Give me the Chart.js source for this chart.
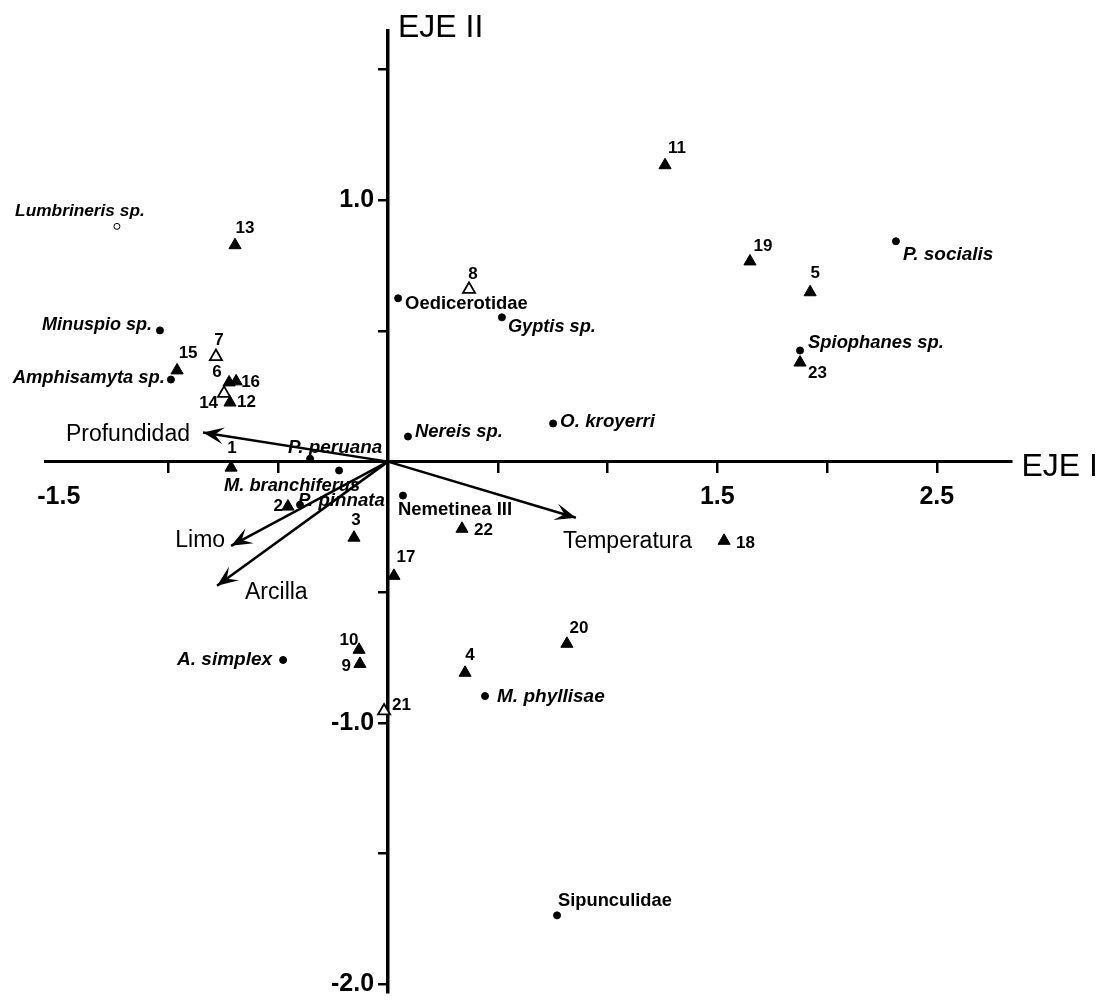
<!DOCTYPE html>
<html>
<head>
<meta charset="utf-8">
<title>EJE I / EJE II</title>
<script src="https://cdn.jsdelivr.net/npm/chart.js@4.4.1/dist/chart.umd.min.js"></script>
<style>
  html, body { margin: 0; padding: 0; background: #ffffff; }
  #wrap { width: 1109px; height: 1001px; position: relative; }
  canvas { display: block; }
</style>
</head>
<body>
<div id="wrap"><canvas id="c" width="1109" height="1001"></canvas></div>
<script>
// Sampling stations (triangles)
const siteIds = ['1','2','3','4','5','6','7','8','9','10','11','12','13','14','15','16','17','18','19','20','21','22','23'];
const siteX = [-0.715, -0.456, -0.155, 0.351, 1.923, -0.724, -0.784, 0.369, -0.128, -0.132, 1.262, -0.720, -0.697, -0.747, -0.961, -0.692, 0.027, 1.531, 1.649, 0.815, -0.018, 0.337, 1.877];
const siteY = [-0.023, -0.172, -0.291, -0.808, 0.648, 0.303, 0.402, 0.659, -0.774, -0.720, 1.134, 0.226, 0.828, 0.261, 0.349, 0.307, -0.437, -0.303, 0.766, -0.697, -0.954, -0.257, 0.379];

// Taxa (dots)
const speciesNames = ['Lumbrineris sp.', 'Minuspio sp.', 'Amphisamyta sp.', 'A. simplex', 'P. peruana', 'M. branchiferus', 'P. pinnata', 'Oedicerotidae', 'Gyptis sp.', 'Nereis sp.', 'O. kroyerri', 'Nemetinea III', 'M. phyllisae', 'Sipunculidae', 'P. socialis', 'Spiophanes sp.'];
const speciesX = [-1.235, -1.039, -0.989, -0.478, -0.355, -0.223, -0.401, 0.046, 0.519, 0.091, 0.752, 0.068, 0.442, 0.770, 2.314, 1.877];
const speciesY = [0.900, 0.502, 0.314, -0.759, 0.011, -0.034, -0.165, 0.625, 0.552, 0.096, 0.146, -0.130, -0.897, -1.736, 0.843, 0.425];

// Environmental variables (arrows from the origin)
const envNames = ['Profundidad', 'Limo', 'Arcilla', 'Temperatura'];
const envX = [-0.843, -0.715, -0.779, 0.856];
const envY = [0.111, -0.322, -0.475, -0.215];

// Axis tick labels and titles
const xTickLabels = [-1.5, 1.5, 2.5];
const yTickLabels = [1.0, -1.0, -2.0];
const axisTitles = ['EJE I', 'EJE II'];

// ---- presentation (label placement in px relative to each mark, styles) ----
const hollowSites = ['7', '8', '14', '21'];
const hollowSpecies = ['Lumbrineris sp.'];
const uprightSpecies = ['Oedicerotidae', 'Nemetinea III', 'Sipunculidae'];

// [dx, dy, align]
const siteLabelPos = [
  [1, -19, 'center'], [-5, 0, 'right'], [2, -17, 'center'], [5, -17, 'center'], [5, -19, 'center'],
  [-12, -10, 'center'], [3, -16, 'center'], [4, -15, 'center'], [-9, 2, 'right'], [-10, -9, 'center'],
  [12, -17, 'center'], [7, 0, 'left'], [10, -17, 'center'], [-6, 10, 'right'], [11, -17, 'center'],
  [5, 1, 'left'], [12, -19, 'center'], [12, 3, 'left'], [13, -15, 'center'], [12, -15, 'center'],
  [8, -6, 'left'], [12, 2, 'left'], [8, 11, 'left']
];
// [dx, dy, align, text width in px]
const speciesLabelPos = [
  [-37, -15, 'center', 130], [-8, -5, 'right', 110], [-6, -2, 'right', 152], [-11, 0, 'right', 100], [-22, -11, 'left', 94],
  [-47, 15, 'center', 136], [-2, -4, 'left', 87], [7, 6, 'left', 123], [6, 10, 'left', 88], [7, -5, 'left', 88],
  [7, -2, 'left', 95], [-5, 14, 'left', 114], [12, 1, 'left', 113], [1, -14, 'left', 114], [7, 13, 'left', 95], [8, -8, 'left', 136]
];
const envLabelPos = [
  [-13, 2, 'right'], [-6, -5, 'right'], [28, 7, 'left'], [-13, 24, 'left']
];

const FONT = '"Liberation Sans", Arial, Helvetica, sans-serif';
const X_MIN = -1.56, X_MAX = 2.84, Y_MIN = -2.03, Y_MAX = 1.65;

// build datasets from the arrays
const sitePoints = siteIds.map((id, i) => ({ x: siteX[i], y: siteY[i] }));
const speciesPoints = speciesNames.map((n, i) => ({ x: speciesX[i], y: speciesY[i] }));
const arrowSets = envNames.map((n, i) => ({
  label: n,
  type: 'scatter',
  showLine: true,
  data: [{ x: 0, y: 0 }, { x: envX[i], y: envY[i] }],
  borderColor: '#000',
  borderWidth: 2.5,
  pointRadius: 0,
  order: 3
}));

function drawArrowHead(ctx, x0, y0, x1, y1) {
  const a = Math.atan2(y1 - y0, x1 - x0);
  const len = 21, half = 8.5, notch = 12;
  ctx.save();
  ctx.translate(x1, y1);
  ctx.rotate(a);
  ctx.beginPath();
  ctx.moveTo(0, 0);
  ctx.lineTo(-len, -half);
  ctx.lineTo(-notch, 0);
  ctx.lineTo(-len, half);
  ctx.closePath();
  ctx.fillStyle = '#000';
  ctx.fill();
  ctx.restore();
}

const annotate = {
  id: 'annotate',
  afterDatasetsDraw(chart) {
    const ctx = chart.ctx;
    const xs = chart.scales.x, ys = chart.scales.y;
    ctx.save();
    ctx.fillStyle = '#000';
    ctx.textBaseline = 'middle';

    // arrowheads + variable names
    envNames.forEach((name, i) => {
      const meta = chart.getDatasetMeta(2 + i);
      const p0 = meta.data[0], p1 = meta.data[1];
      drawArrowHead(ctx, p0.x, p0.y, p1.x, p1.y);
      const o = envLabelPos[i];
      ctx.font = '23px ' + FONT;
      ctx.textAlign = o[2];
      ctx.fillText(name, p1.x + o[0], p1.y + o[1]);
    });

    // station numbers
    const sMeta = chart.getDatasetMeta(0);
    ctx.font = 'bold 17px ' + FONT;
    siteIds.forEach((id, i) => {
      const el = sMeta.data[i];
      const o = siteLabelPos[i];
      ctx.textAlign = o[2];
      ctx.fillText(id, el.x + o[0], el.y + o[1]);
    });

    // taxa names, sized to their set width
    const tMeta = chart.getDatasetMeta(1);
    speciesNames.forEach((name, i) => {
      const el = tMeta.data[i];
      const o = speciesLabelPos[i];
      const style = uprightSpecies.includes(name) ? 'bold ' : 'italic bold ';
      ctx.font = style + '16px ' + FONT;
      const size = Math.min(19, Math.max(16.5, 16 * o[3] / ctx.measureText(name).width));
      ctx.font = style + size.toFixed(1) + 'px ' + FONT;
      ctx.textAlign = o[2];
      ctx.fillText(name, el.x + o[0], el.y + o[1]);
    });

    // axis titles
    ctx.font = '32px ' + FONT;
    ctx.textAlign = 'left';
    ctx.fillText(axisTitles[0], xs.right + 10, ys.getPixelForValue(0) + 6);
    ctx.textBaseline = 'alphabetic';
    ctx.fillText(axisTitles[1], xs.getPixelForValue(0) + 10, ys.top + 7);
    ctx.restore();
  }
};

// tick positions every 0.5; the scale ends carry an empty label and no tick mark
const xTickValues = [X_MIN, -1.5, -1, -0.5, 0, 0.5, 1, 1.5, 2, 2.5, X_MAX];
const yTickValues = [Y_MIN, -2, -1.5, -1, -0.5, 0, 0.5, 1, 1.5, Y_MAX];
const near = (a, b) => Math.abs(a - b) < 1e-6;
const isEnd = (v, lo, hi) => near(v, lo) || near(v, hi);
const CLEAR = 'rgba(0,0,0,0)';

new Chart(document.getElementById('c'), {
  type: 'scatter',
  data: {
    datasets: [
      {
        label: 'Estaciones',
        data: sitePoints,
        pointStyle: 'triangle',
        pointRadius: 7,
        backgroundColor: ctx => hollowSites.includes(siteIds[ctx.dataIndex]) ? '#fff' : '#000',
        borderColor: '#000',
        borderWidth: ctx => hollowSites.includes(siteIds[ctx.dataIndex]) ? 1.8 : 1,
        order: 1
      },
      {
        label: 'Taxa',
        data: speciesPoints,
        pointStyle: 'circle',
        pointRadius: ctx => hollowSpecies.includes(speciesNames[ctx.dataIndex]) ? 3 : 3.5,
        backgroundColor: ctx => hollowSpecies.includes(speciesNames[ctx.dataIndex]) ? '#fff' : '#000',
        borderColor: '#000',
        borderWidth: 1,
        order: 2
      },
      ...arrowSets
    ]
  },
  options: {
    responsive: false,
    animation: false,
    devicePixelRatio: 1,
    layout: { padding: { left: 45.6, top: 30.35, right: 97.6, bottom: 5 } },
    plugins: { legend: { display: false }, tooltip: { enabled: false } },
    scales: {
      x: {
        type: 'linear',
        min: X_MIN, max: X_MAX,
        position: { y: 0 },
        afterBuildTicks: s => { s.ticks = xTickValues.map(v => ({ value: v })); },
        border: { display: true, color: '#000', width: 3 },
        grid: {
          drawOnChartArea: false,
          drawTicks: true,
          tickLength: 10,
          lineWidth: 2.5,
          color: c => (c.tick && (isEnd(c.tick.value, X_MIN, X_MAX) || near(c.tick.value, -1.5) || near(c.tick.value, 0))) ? CLEAR : '#000'
        },
        ticks: {
          autoSkip: false,
          maxRotation: 0,
          padding: 10,
          color: '#000',
          font: { family: FONT, size: 25, weight: 'bold' },
          callback: v => isEnd(v, X_MIN, X_MAX) ? [] : (xTickLabels.some(t => near(t, v)) ? v.toFixed(1) : '')
        }
      },
      y: {
        type: 'linear',
        min: Y_MIN, max: Y_MAX,
        position: { x: 0 },
        afterBuildTicks: s => { s.ticks = yTickValues.map(v => ({ value: v })); },
        border: { display: true, color: '#000', width: 3.5 },
        grid: {
          drawOnChartArea: false,
          drawTicks: true,
          tickLength: 8,
          lineWidth: 2.5,
          color: c => (c.tick && (isEnd(c.tick.value, Y_MIN, Y_MAX) || near(c.tick.value, 0))) ? CLEAR : '#000'
        },
        ticks: {
          autoSkip: false,
          padding: 2,
          color: '#000',
          font: { family: FONT, size: 25, weight: 'bold' },
          // two trailing spaces keep the number clear of the tick mark
          callback: v => isEnd(v, Y_MIN, Y_MAX) ? [] : (yTickLabels.some(t => near(t, v)) ? v.toFixed(1) + '  ' : '')
        }
      }
    }
  },
  plugins: [annotate]
});
</script>
</body>
</html>
